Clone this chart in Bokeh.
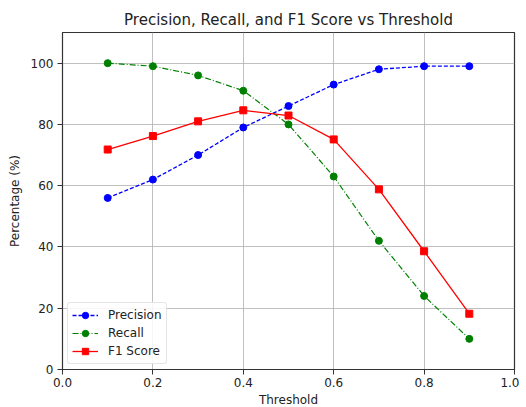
from bokeh.plotting import figure
from bokeh.models import Range1d, FixedTicker, Legend, LegendItem
from bokeh.embed import file_html
from bokeh.resources import INLINE

thresholds = [0.1, 0.2, 0.3, 0.4, 0.5, 0.6, 0.7, 0.8, 0.9]
precision = [56, 62, 70, 79, 86, 93, 98, 99, 99]
recall = [100, 99, 96, 91, 80, 63, 42, 24, 10]
f1_score = [71.8, 76.2, 81.0, 84.6, 82.9, 75.1, 58.8, 38.6, 18.2]
x_ticks = [0.0, 0.2, 0.4, 0.6, 0.8, 1.0]
y_ticks = [0, 20, 40, 60, 80, 100]

FONT = "DejaVu Sans"

p = figure(frame_width=452, frame_height=337, output_backend="svg", toolbar_location=None,
           x_range=Range1d(0, 1.0), y_range=Range1d(0, 110),
           min_border_left=62, min_border_right=5, min_border_top=32, min_border_bottom=29,
           title="Precision, Recall, and F1 Score vs Threshold")

p.title.align = "center"
p.title.text_font = FONT
p.title.text_font_size = "15px"
p.title.text_font_style = "normal"
p.title.text_color = "#222222"
p.title.standoff = 8

p.outline_line_color = "#333333"
p.outline_line_width = 1.2

for ax in (p.xaxis, p.yaxis):
    ax.axis_line_color = "#333333"
    ax.major_tick_line_color = "#333333"
    ax.minor_tick_line_color = None
    ax.major_tick_out = 5
    ax.major_tick_in = 0
    ax.major_label_text_font = FONT
    ax.major_label_text_font_size = "12px"
    ax.major_label_text_color = "#222222"
    ax.axis_label_text_font = FONT
    ax.axis_label_text_font_size = "12px"
    ax.axis_label_text_font_style = "normal"
    ax.axis_label_text_color = "#222222"

p.xaxis.major_label_standoff = 3
p.xaxis.axis_label_standoff = 3
p.yaxis.major_label_standoff = 4
p.yaxis.axis_label_standoff = 6

p.xaxis.ticker = FixedTicker(ticks=x_ticks)
p.yaxis.ticker = FixedTicker(ticks=y_ticks)
p.xaxis.major_label_overrides = {t: f"{t:.1f}" for t in x_ticks}
p.xaxis.axis_label = "Threshold"
p.yaxis.axis_label = "Percentage (%)"

p.xgrid.ticker = FixedTicker(ticks=x_ticks)
p.ygrid.ticker = FixedTicker(ticks=y_ticks)
p.grid.grid_line_color = "#b0b0b0"
p.grid.grid_line_alpha = 0.8

l1 = p.line(thresholds, precision, line_color="blue", line_dash="4 2", line_width=1.3)
m1 = p.scatter(thresholds, precision, marker="circle", size=7, fill_color="blue", line_color="blue")
l2 = p.line(thresholds, recall, line_color="green", line_dash="6 2 1 2", line_width=1.2)
m2 = p.scatter(thresholds, recall, marker="circle", size=7, fill_color="green", line_color="green")
l3 = p.line(thresholds, f1_score, line_color="red", line_width=1.3)
m3 = p.scatter(thresholds, f1_score, marker="square", size=7, fill_color="red", line_color="red")

legend = Legend(items=[
    LegendItem(label="Precision", renderers=[l1, m1]),
    LegendItem(label="Recall", renderers=[l2, m2]),
    LegendItem(label="F1 Score", renderers=[l3, m3]),
], location="bottom_left")
legend.label_text_font = FONT
legend.label_text_font_size = "12px"
legend.label_text_color = "#222222"
legend.border_line_color = "#cccccc"
legend.border_radius = 3
legend.background_fill_alpha = 0.85
legend.glyph_width = 26
legend.glyph_height = 16
legend.label_height = 16
legend.spacing = 2
legend.padding = 4
legend.margin = 5
legend.label_standoff = 10
p.add_layout(legend)

open("out.html", "w").write(file_html(p, INLINE))
